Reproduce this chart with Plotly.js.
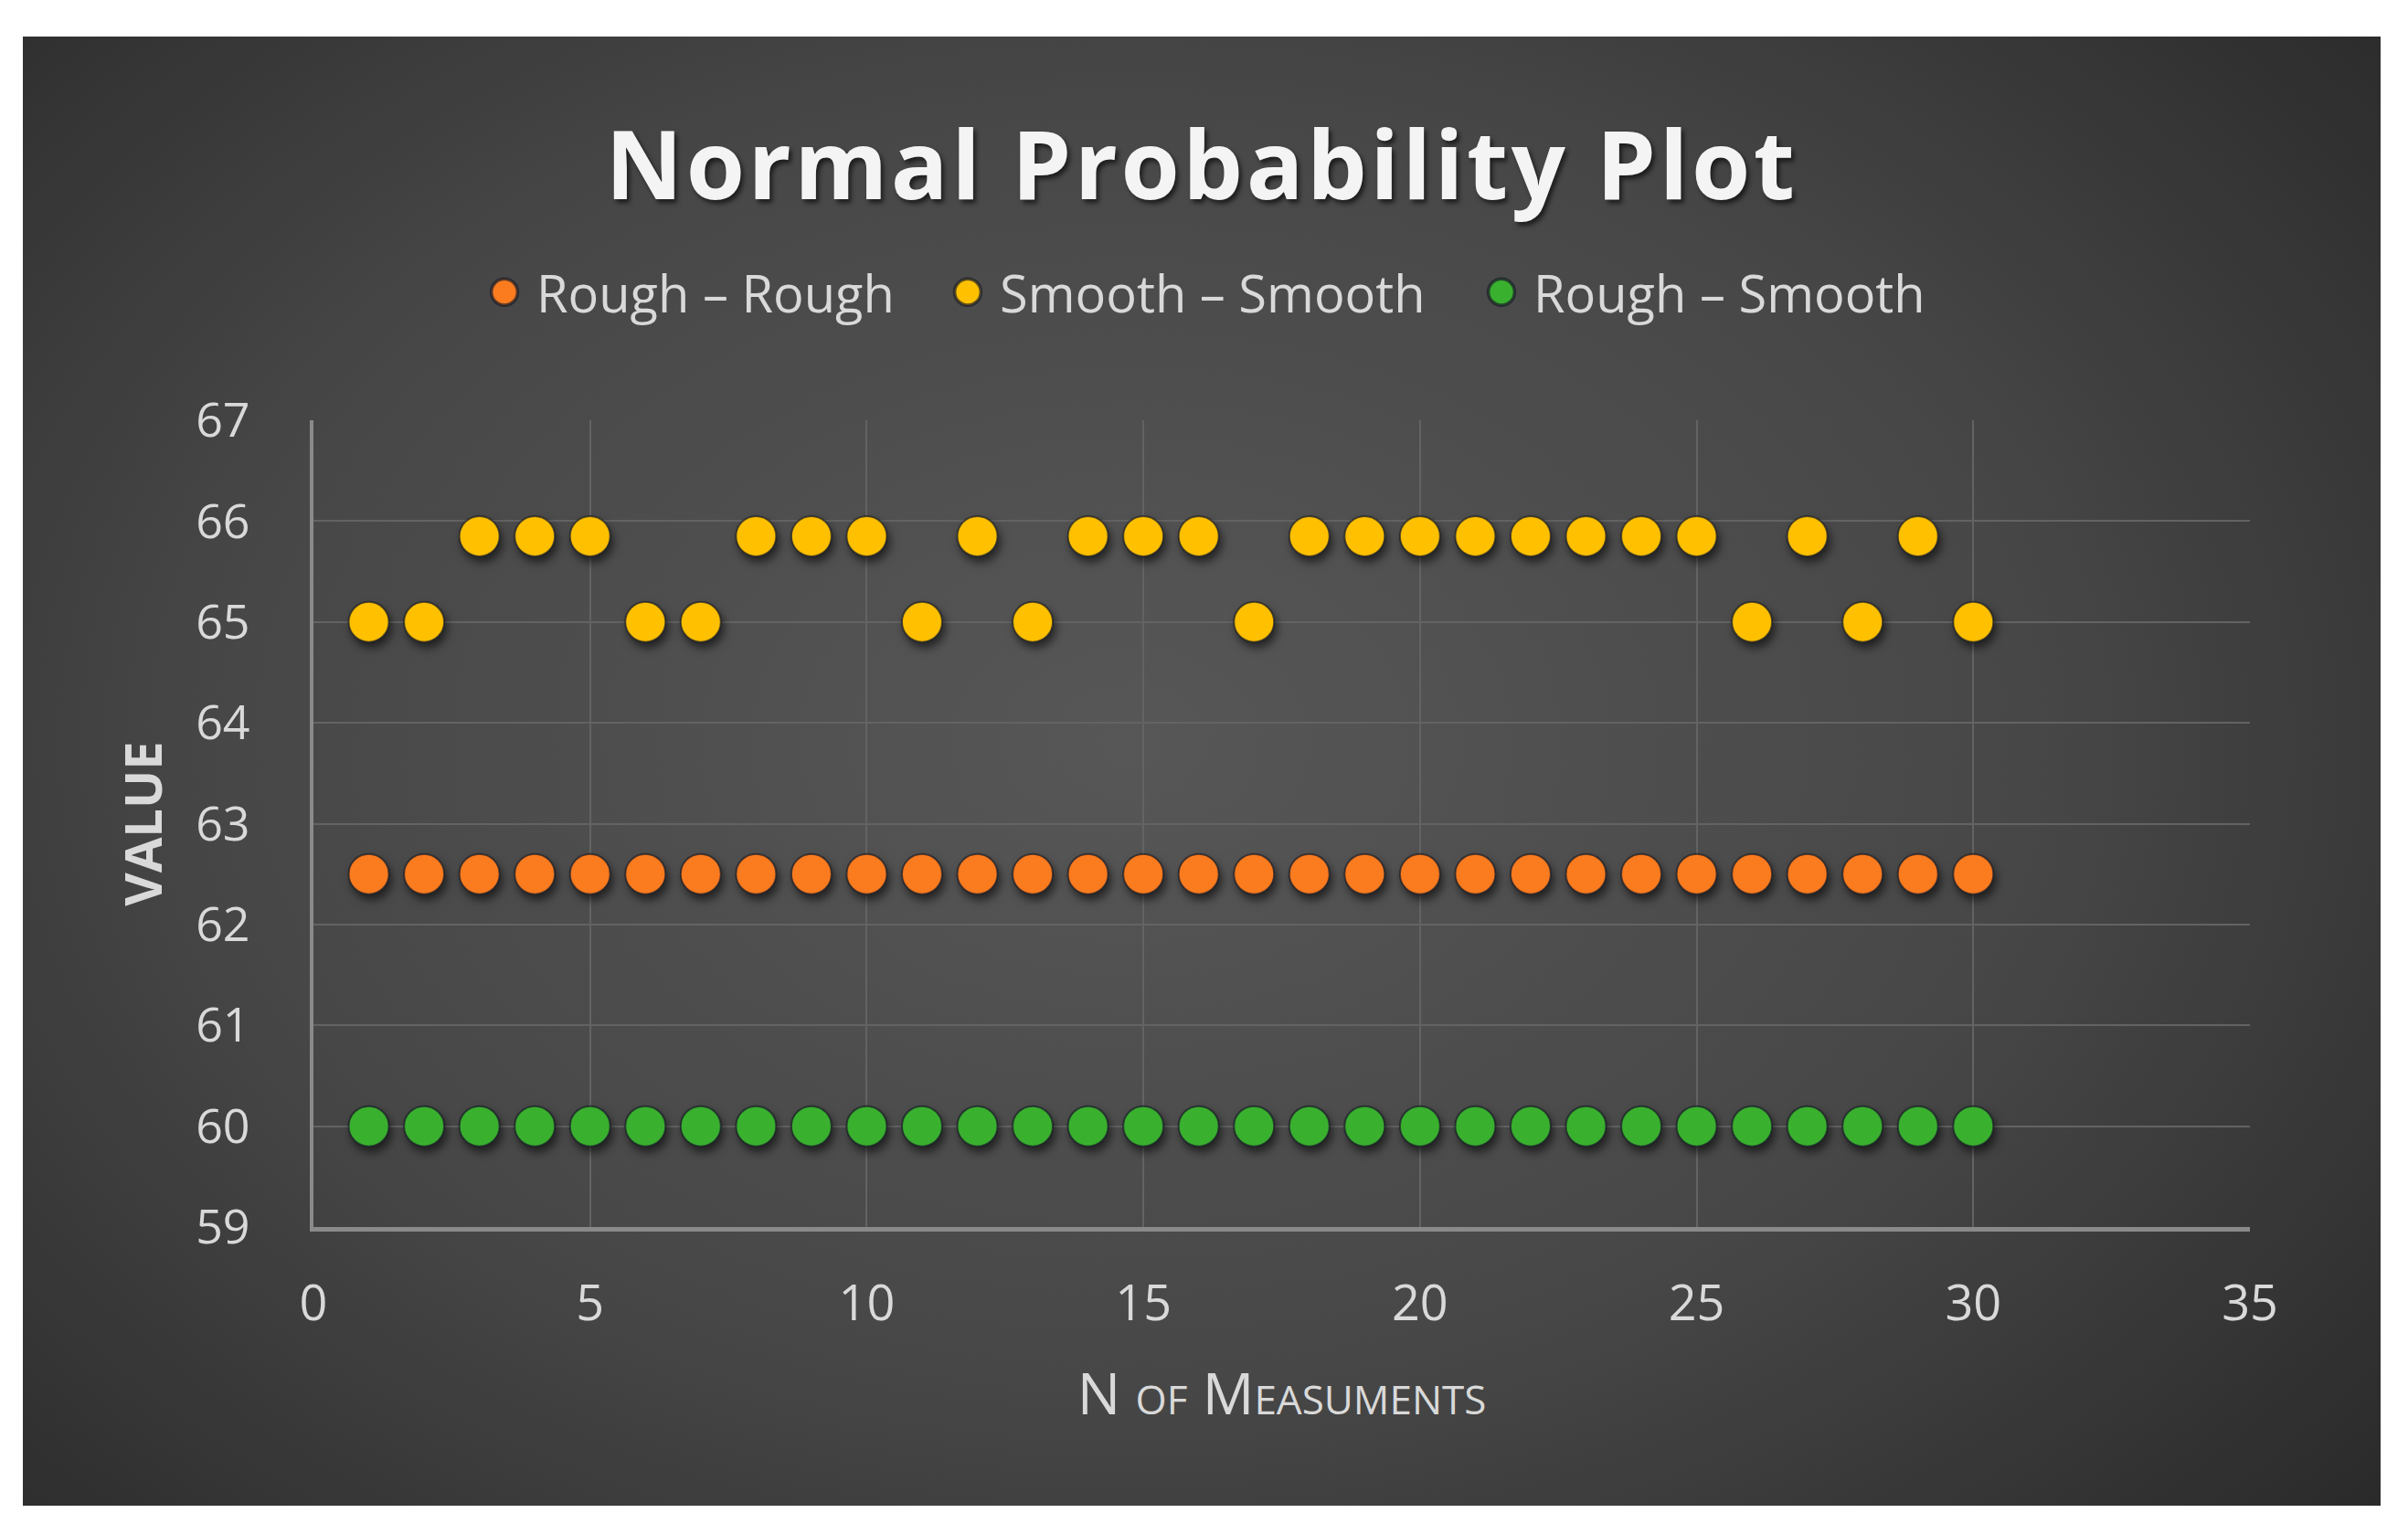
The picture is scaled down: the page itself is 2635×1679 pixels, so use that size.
<!DOCTYPE html>
<html>
<head>
<meta charset="utf-8">
<script src="https://cdn.plot.ly/plotly-3.0.1.min.js"></script>
<style>
  html, body { margin: 0; padding: 0; background: #ffffff; }
  #chart {
    position: absolute; left: 25px; top: 40px; width: 2580px; height: 1608px;
    background: radial-gradient(ellipse 70% 80% at 47% 48%, #575757 0%, #474747 55%, #2a2a2a 100%);
  }
  .scatterlayer .point { filter: drop-shadow(3px 6px 5px rgba(0,0,0,0.55)); }
  .gtitle { letter-spacing: 3.5px; }
  .legend .legendpoints path.scatterpts { transform: translate(35px, 0px) scale(1.8); }
</style>
</head>
<body>
<div id="chart"></div>
<script>
// measurement number
const nMeas = [1, 2, 3, 4, 5, 6, 7, 8, 9, 10, 11, 12, 13, 14, 15,
               16, 17, 18, 19, 20, 21, 22, 23, 24, 25, 26, 27, 28, 29, 30];

const roughRough = [62.5, 62.5, 62.5, 62.5, 62.5, 62.5, 62.5, 62.5, 62.5, 62.5,
                    62.5, 62.5, 62.5, 62.5, 62.5, 62.5, 62.5, 62.5, 62.5, 62.5,
                    62.5, 62.5, 62.5, 62.5, 62.5, 62.5, 62.5, 62.5, 62.5, 62.5];

const smoothSmooth = [65, 65, 65.85, 65.85, 65.85, 65, 65, 65.85, 65.85, 65.85,
                      65, 65.85, 65, 65.85, 65.85, 65.85, 65, 65.85, 65.85, 65.85,
                      65.85, 65.85, 65.85, 65.85, 65.85, 65, 65.85, 65, 65.85, 65];

const roughSmooth = [60, 60, 60, 60, 60, 60, 60, 60, 60, 60,
                     60, 60, 60, 60, 60, 60, 60, 60, 60, 60,
                     60, 60, 60, 60, 60, 60, 60, 60, 60, 60];

const seriesNames = ['Rough \u2013 Rough', 'Smooth \u2013 Smooth', 'Rough \u2013 Smooth'];
const seriesColors = ['#FB7B1F', '#FFC000', '#3AB02F'];
const xTicks = [0, 5, 10, 15, 20, 25, 30, 35];
const yTicks = [59, 60, 61, 62, 63, 64, 65, 66, 67];

const FONT = '"Open Sans", "DejaVu Sans", sans-serif';
const textCol = '#d9d9d9';
const legendWidths = [432, 509, 430];

function trace(y, i) {
  return {
    x: nMeas, y: y, name: seriesNames[i],
    type: 'scatter', mode: 'markers',
    legendwidth: legendWidths[i],
    marker: { size: 44, color: seriesColors[i], line: { width: 2, color: 'rgba(25,30,40,0.7)' } },
    hoverinfo: 'skip'
  };
}

const traces = [trace(roughRough, 0), trace(smoothSmooth, 1), trace(roughSmooth, 2)];

const layout = {
  width: 2580, height: 1608,
  paper_bgcolor: 'rgba(0,0,0,0)',
  plot_bgcolor: 'rgba(0,0,0,0)',
  margin: { l: 318, r: 143, t: 420, b: 305 },
  showlegend: true,
  title: {
    text: 'Normal Probability Plot',
    x: 0.5, xref: 'container', xanchor: 'center',
    y: 0.912, yref: 'container', yanchor: 'middle',
    font: { family: FONT, size: 104, weight: 700, color: '#f4f4f4', shadow: '3px 4px 5px rgba(0,0,0,0.6)' }
  },
  legend: {
    orientation: 'h',
    x: 0.5, xref: 'container', xanchor: 'center',
    y: 0.826, yref: 'container', yanchor: 'middle',
    font: { family: FONT, size: 56, color: textCol },
    itemwidth: 60,
    bgcolor: 'rgba(0,0,0,0)'
  },
  xaxis: {
    range: [0, 35], tickvals: xTicks, ticktext: xTicks.map(String),
    showgrid: true, gridcolor: '#636363', gridwidth: 2,
    showline: true, linecolor: '#8a8a8a', linewidth: 5,
    zeroline: false, ticks: '',
    ticklabelstandoff: 32,
    tickfont: { family: FONT, size: 54, color: textCol },
    title: {
      text: 'N of Measuments', standoff: 46,
      font: { family: FONT, size: 63, color: textCol, variant: 'small-caps' }
    }
  },
  yaxis: {
    range: [59, 67], tickvals: yTicks, ticktext: yTicks.map(String),
    showgrid: true, gridcolor: '#636363', gridwidth: 2,
    showline: true, linecolor: '#8a8a8a', linewidth: 4,
    zeroline: false, ticks: '',
    ticklabelstandoff: 55,
    tickfont: { family: FONT, size: 52, color: textCol },
    title: {
      text: 'VALUE', standoff: 20,
      font: { family: FONT, size: 56, weight: 700, color: textCol }
    }
  }
};

Plotly.newPlot('chart', traces, layout, { displayModeBar: false, staticPlot: true });
</script>
</body>
</html>
